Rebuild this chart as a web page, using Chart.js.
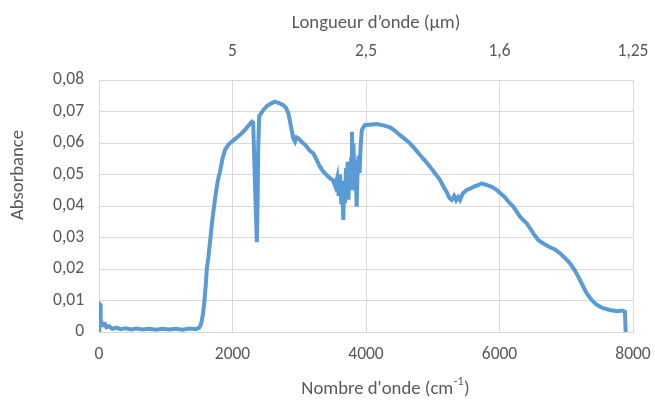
<!DOCTYPE html>
<html>
<head>
<meta charset="utf-8">
<script src="https://cdn.jsdelivr.net/npm/chart.js@4"></script>
<style>
  html, body { margin: 0; padding: 0; background: #fff; }
  #wrap { width: 655px; height: 401px; }
</style>
</head>
<body>
<div id="wrap"><canvas id="spectre" width="655" height="401"></canvas></div>
<script>
// nombre d'onde (cm-1)
const nombreOnde = [
  0, 5, 15, 25, 40, 60, 90, 110, 150, 200, 260, 320, 400, 480, 560, 650, 750, 850, 950, 1050,
  1150, 1250, 1350, 1450, 1500, 1530, 1560, 1580, 1600, 1615, 1640, 1660, 1675, 1700, 1725, 1750,
  1780, 1813, 1850, 1888, 1940, 2000, 2070, 2138, 2200, 2250, 2290, 2310, 2330, 2350, 2365, 2375,
  2385, 2400, 2430, 2462, 2520, 2580, 2637, 2700, 2762, 2800, 2837, 2860, 2887, 2910, 2937, 2960,
  2987, 3030, 3070, 3112, 3160, 3211, 3262, 3310, 3361, 3412, 3460, 3500, 3540, 3570, 3590, 3610,
  3630, 3645, 3660, 3672, 3685, 3700, 3712, 3725, 3738, 3752, 3765, 3778, 3790, 3800, 3812, 3825,
  3840, 3860, 3875, 3890, 3905, 3920, 3937, 3960, 3985, 4050, 4160, 4260, 4360, 4440, 4509, 4580,
  4659, 4730, 4809, 4880, 4958, 5030, 5108, 5160, 5208, 5250, 5283, 5320, 5350, 5380, 5408, 5450,
  5508, 5560, 5620, 5680, 5733, 5790, 5883, 5957, 6017, 6080, 6157, 6207, 6257, 6307, 6357, 6407,
  6456, 6506, 6581, 6656, 6750, 6830, 6906, 6980, 7056, 7130, 7206, 7260, 7306, 7380, 7456, 7550,
  7655, 7760, 7840, 7880, 7890
]
// absorbance
const absorbance = [
  0, 0.009, 0.0088, 0.004, 0.003, 0.0022, 0.0025, 0.0015, 0.0018, 0.001, 0.0014, 0.0009, 0.0012, 0.0008, 0.0011, 0.0008, 0.001, 0.0007, 0.001, 0.0008,
  0.001, 0.0007, 0.0011, 0.0009, 0.0013, 0.0025, 0.006, 0.010, 0.015, 0.020, 0.024, 0.028, 0.031, 0.036, 0.040, 0.044,
  0.048, 0.051, 0.055, 0.0578, 0.0595, 0.0606, 0.0618, 0.0631, 0.0645, 0.0658, 0.0668, 0.0665, 0.052, 0.038, 0.0285, 0.040,
  0.058, 0.0685, 0.0695, 0.0705, 0.0718, 0.0726, 0.0731, 0.0727, 0.072, 0.0712, 0.0694, 0.067, 0.0641, 0.0615, 0.0604, 0.0618,
  0.0615, 0.0605, 0.0598, 0.0588, 0.0575, 0.0567, 0.0546, 0.0525, 0.0509, 0.0498, 0.0488, 0.0483, 0.0462, 0.049, 0.0432, 0.05,
  0.0405, 0.048, 0.0356, 0.047, 0.041, 0.052, 0.044, 0.054, 0.042, 0.0525, 0.047, 0.055, 0.0636, 0.045, 0.06, 0.05,
  0.0545, 0.0398, 0.052, 0.056, 0.0505, 0.059, 0.0641, 0.065, 0.0657, 0.0658, 0.066, 0.0656, 0.065, 0.0638, 0.0625, 0.0613,
  0.0599, 0.0582, 0.0562, 0.0545, 0.0525, 0.0505, 0.0483, 0.0462, 0.0445, 0.0425, 0.0419, 0.0432, 0.0418, 0.0428, 0.0419, 0.044,
  0.0451, 0.0455, 0.0462, 0.0466, 0.0472, 0.0468, 0.0461, 0.0451, 0.044, 0.0428, 0.0408, 0.0398, 0.0382, 0.0366, 0.0355, 0.0345,
  0.033, 0.0313, 0.0292, 0.0281, 0.027, 0.0262, 0.025, 0.0235, 0.0218, 0.0195, 0.0165, 0.0142, 0.0123, 0.0102, 0.0086, 0.0076,
  0.007, 0.0066, 0.0068, 0.0064, 0
]
// graduations de l'axe du haut (longueur d'onde) pour 0, 2000, 4000, 6000, 8000 cm-1
const longueurOndeLabels = ["", "5", "2,5", "1,6", "1,25"]

const titreX = "Nombre d'onde (cm"
const titreXExposant = "-1"
const titreHaut = "Longueur d\u2019onde (\u00b5m)"
const titreY = "Absorbance"

const police = 'Carlito, Calibri, "Open Sans", sans-serif'
const gris = '#595959'
const taille = 17.5
const tailleTitre = 18.7

const points = nombreOnde.map((x, i) => ({ x: x, y: absorbance[i] }))

const titres = {
  id: 'titres',
  afterDraw(chart) {
    const ctx = chart.ctx
    ctx.save()
    ctx.fillStyle = gris
    ctx.textBaseline = 'middle'
    ctx.font = tailleTitre + 'px ' + police
    // titre du haut
    ctx.textAlign = 'center'
    ctx.fillText(titreHaut, 376, 23)
    // titre du bas avec exposant
    const w1 = ctx.measureText(titreX).width
    ctx.font = '12px ' + police
    const w2 = ctx.measureText(titreXExposant).width
    ctx.font = tailleTitre + 'px ' + police
    const w3 = ctx.measureText(')').width
    let x0 = 385 - (w1 + w2 + w3) / 2
    ctx.textAlign = 'left'
    ctx.fillText(titreX, x0, 389)
    ctx.font = '12px ' + police
    ctx.fillText(titreXExposant, x0 + w1 + 0.5, 382)
    ctx.font = tailleTitre + 'px ' + police
    ctx.fillText(')', x0 + w1 + w2 + 1, 389)
    // titre vertical
    ctx.translate(18, 175)
    ctx.rotate(-Math.PI / 2)
    ctx.textAlign = 'center'
    ctx.fillText(titreY, 0, 0)
    ctx.restore()
  }
}

function sansDebord(s, h) {
  s.height = h
  s.paddingLeft = 0
  s.paddingRight = 0
}

const ctx = document.getElementById('spectre')
new Chart(ctx, {
  type: 'line',
  data: {
    datasets: [{
      data: points,
      borderColor: '#5B9BD5',
      backgroundColor: '#5B9BD5',
      borderWidth: 4,
      pointRadius: 0,
      tension: 0,
      fill: false
    }]
  },
  options: {
    responsive: false,
    animation: false,
    layout: { padding: { left: 0, right: 22, top: 0, bottom: 0 } },
    plugins: { legend: { display: false }, tooltip: { enabled: false } },
    scales: {
      x: {
        type: 'linear',
        position: 'bottom',
        min: 0, max: 8000,
        afterFit: s => sansDebord(s, 69),
        ticks: { stepSize: 2000, padding: 12, color: gris, font: { family: police, size: taille },
          maxRotation: 0, callback: v => String(v) },
        grid: { color: '#D9D9D9', lineWidth: 1, drawTicks: false },
        border: { color: '#D9D9D9' }
      },
      x2: {
        type: 'linear',
        position: 'top',
        min: 0, max: 8000,
        afterFit: s => sansDebord(s, 80),
        ticks: { stepSize: 2000, padding: 18, color: gris, font: { family: police, size: taille },
          maxRotation: 0, callback: (v, i) => longueurOndeLabels[i] },
        grid: { display: false, drawTicks: false },
        border: { display: false }
      },
      y: {
        min: 0, max: 0.08,
        afterFit: s => { s.width = 99; s.paddingTop = 0; s.paddingBottom = 0 },
        ticks: { stepSize: 0.01, padding: 15, color: gris, font: { family: police, size: taille },
          callback: v => v === 0 ? '0' : v.toFixed(2).replace('.', ',') },
        grid: { color: '#D9D9D9', lineWidth: 1, drawTicks: false },
        border: { color: '#D9D9D9' }
      }
    }
  },
  plugins: [titres]
})
</script>
</body>
</html>
